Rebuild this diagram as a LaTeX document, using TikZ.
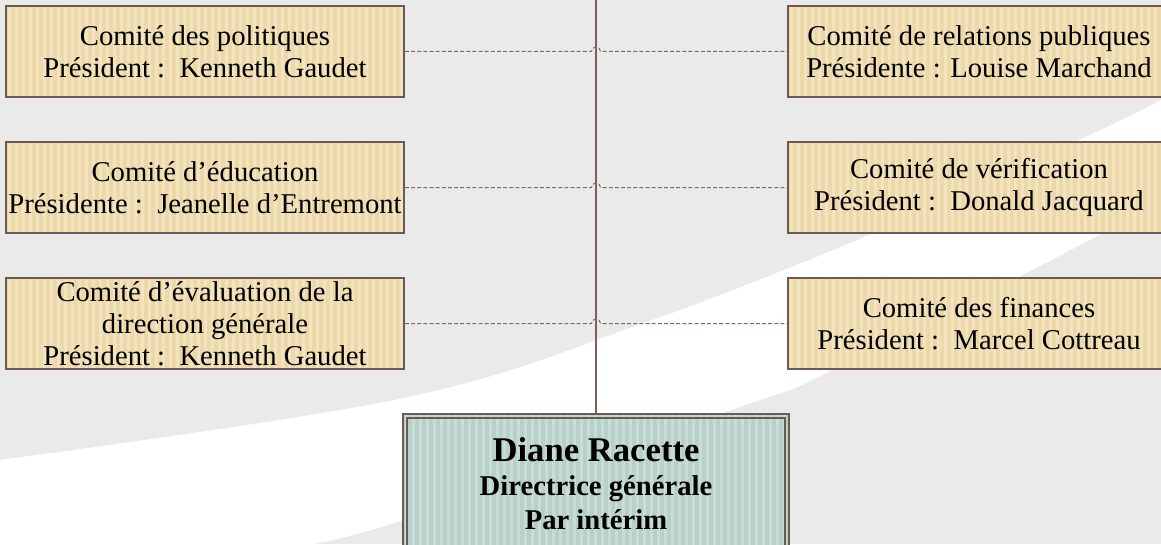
\documentclass[tikz,border=0pt]{standalone}
\usepackage{fontspec}
\setmainfont{Liberation Serif}
\usetikzlibrary{calc}
\definecolor{bgc}{HTML}{EAEAEA}
\definecolor{tanfill}{HTML}{EDD8A9}
\definecolor{tanstripe}{HTML}{F3E4C0}
\definecolor{edgec}{HTML}{6E5A55}
\definecolor{tealfill}{HTML}{B8D0CA}
\definecolor{tealstripe}{HTML}{C9DDD8}
\definecolor{dashc}{HTML}{7D6B66}
\definecolor{vlinec}{HTML}{7B5F58}
\def\px{0.75pt}
\tikzset{
  stripes/.style={path picture={
      \foreach \i in {0,...,60}{
        \fill[#1] ($(path picture bounding box.south west)+(\i*7+2,0)$) rectangle ++(2.5,300);}}},
  cbox/.style={draw=edgec, line width=1.5pt, fill=tanfill, stripes=tanstripe,
    minimum width=398*\px, minimum height=91*\px, align=center, inner sep=0pt,
    font=\fontsize{21.5}{24}\selectfont},
  rbox/.style={cbox, minimum width=382*\px},
  dirbox/.style={draw=edgec, line width=1.5pt, fill=tealfill, stripes=tealstripe,
    minimum width=386*\px, minimum height=200*\px, inner sep=0pt},
  dirframe/.style={draw=edgec, line width=1.5pt},
  dirtext/.style={align=center, inner sep=0pt, font=\bfseries\fontsize{21.5}{24.5}\selectfont},
  conn/.style={draw=dashc, line width=0.75pt, dash pattern=on 3pt off 1.6pt},
  vconn/.style={draw=vlinec, line width=0.8pt},
}
\begin{document}
\begin{tikzpicture}[x=0.75pt,y=0.75pt]
\useasboundingbox (0,0) rectangle (1161,544);
\clip (0,0) rectangle (1161,544);
% background
\fill[bgc] (0,0) rectangle (1161,544);
\fill[white] plot[smooth, tension=0.6] coordinates {(0,84) (404,146) (644,221) (874,311) (1077,403) (1161,444)}
  -- plot[smooth, tension=0.6] coordinates {(1161,349) (1103,311) (837,176) (740,137) (404,24) (311,0)}
  -- (0,0) -- cycle;
% committee boxes
\node[cbox] (l1) at (205,492.5) {Comité des politiques\\Président :\ \ Kenneth Gaudet};
\node[cbox] (l2) at (205,356.5) {Comité d’éducation\\Présidente :\ \ Jeanelle d’Entremont};
\node[cbox] (l3) at (205,220.5) {Comité d’évaluation de la\\direction générale\\Président :\ \ Kenneth Gaudet};
\node[rbox] (r1) at (979,492.5) {Comité de relations publiques\\Présidente : Louise Marchand};
\node[rbox] (r2) at (979,356.5) {Comité de vérification\\Président :\ \ Donald Jacquard};
\node[rbox] (r3) at (979,220.5) {Comité des finances\\Président :\ \ Marcel Cottreau};
% director box
\node[dirbox, anchor=north] (dir) at (596,131) {};
\draw[dirframe] ($(dir.north west)+(5,-5)$) rectangle ($(dir.south east)+(-5,5)$);
\node[dirtext, anchor=north] (dirt) at (596,107) {{\fontsize{26}{30}\selectfont Diane Racette}\\[1pt]Directrice générale\\[1pt]Par intérim};
% vertical line
\coordinate (vtop) at (596,544);
\draw[vconn] (vtop) -- (dir.north);
% dashed connectors with hops
\foreach \a/\b in {l1/r1,l2/r2,l3/r3}{
  \draw[conn] (\a.east) -- ($(\a.east -| vtop)+(-4.5,0)$)
     arc[start angle=180, end angle=0, radius=4.5] -- (\b.west);
}
\end{tikzpicture}
\end{document}
